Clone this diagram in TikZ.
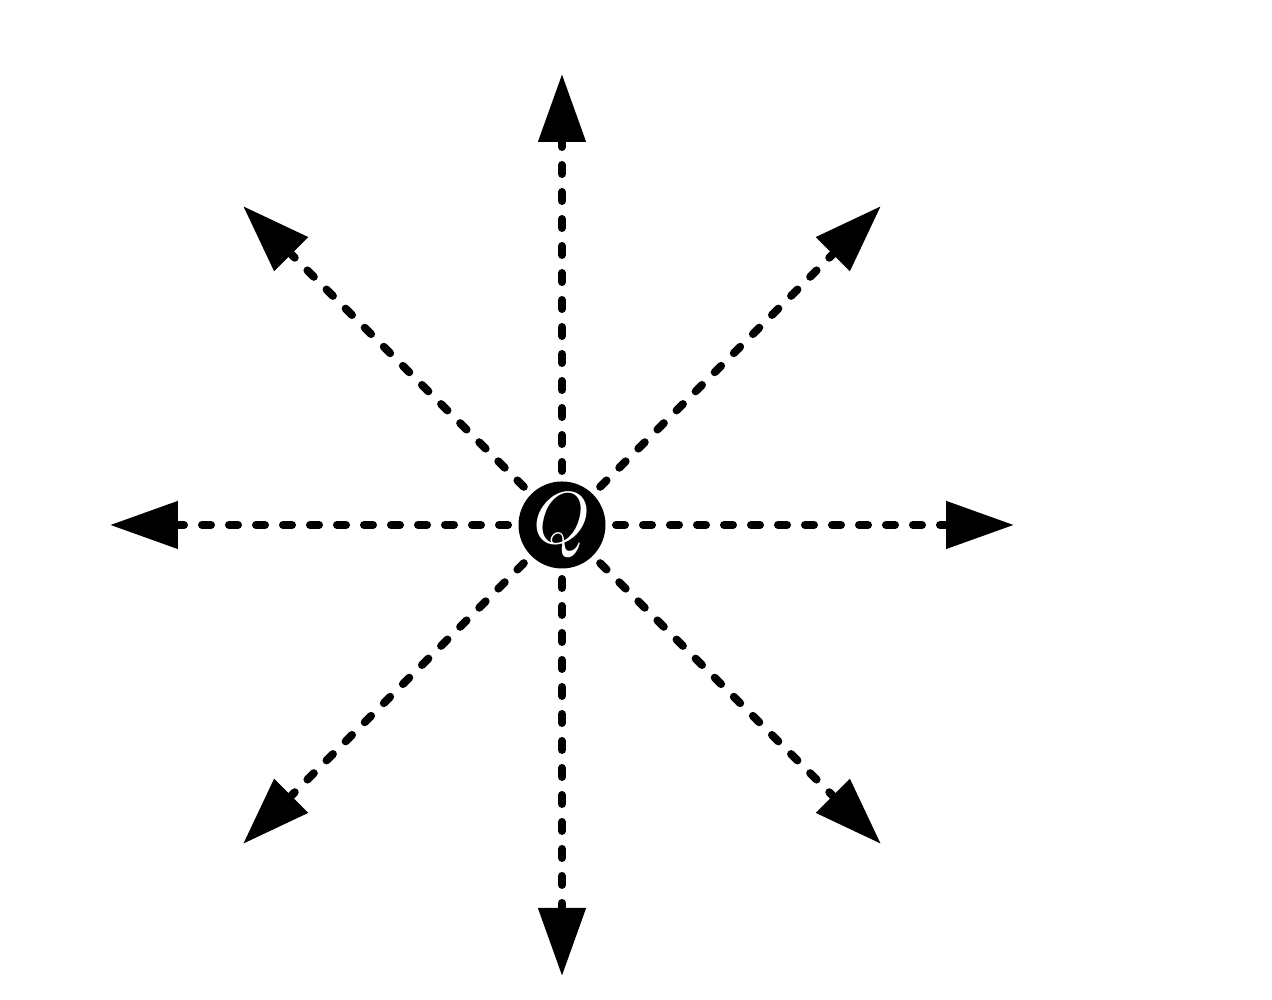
\RequirePackage{fix-cm}
\documentclass[tikz,border=0pt]{standalone}
\usetikzlibrary{arrows.meta,calc}
\tikzset{
  fieldline/.style={line width=0.08cm, line cap=round, dash pattern=on 0.09cm off 0.18cm,
    -{Triangle[length=0.68cm, width=0.46cm]}},
  charge/.style={circle, fill=black, text=white, minimum size=0.87cm, inner sep=0pt,
    font=\fontsize{21}{25}\selectfont}
}
\begin{document}
\begin{tikzpicture}
    \useasboundingbox (0,0) rectangle (12.72,10);
    \coordinate (centre) at (5.62,4.75);
    %Ends
    \coordinate (up) at ($(centre)+(90:4.51)$);
    \coordinate (down) at ($(centre)+(270:4.51)$);
    \coordinate (left) at ($(centre)+(180:4.52)$);
    \coordinate (right) at ($(centre)+(0:4.52)$);
    \coordinate (upleft) at ($(centre)+(135:4.51)$);
    \coordinate (upright) at ($(centre)+(45:4.51)$);
    \coordinate (downleft) at ($(centre)+(225:4.51)$);
    \coordinate (downright) at ($(centre)+(315:4.51)$);
    %Field lines
    \draw [fieldline] (centre) -- (up);
    \draw [fieldline] (centre) -- (down);
    \draw [fieldline] (centre) -- (left);
    \draw [fieldline] (centre) -- (right);
    \draw [fieldline] (centre) -- (upleft);
    \draw [fieldline] (centre) -- (upright);
    \draw [fieldline] (centre) -- (downleft);
    \draw [fieldline] (centre) -- (downright);
    %Charge
    \node [charge] (Q) at (centre) {$Q$};
\end{tikzpicture}
\end{document}
